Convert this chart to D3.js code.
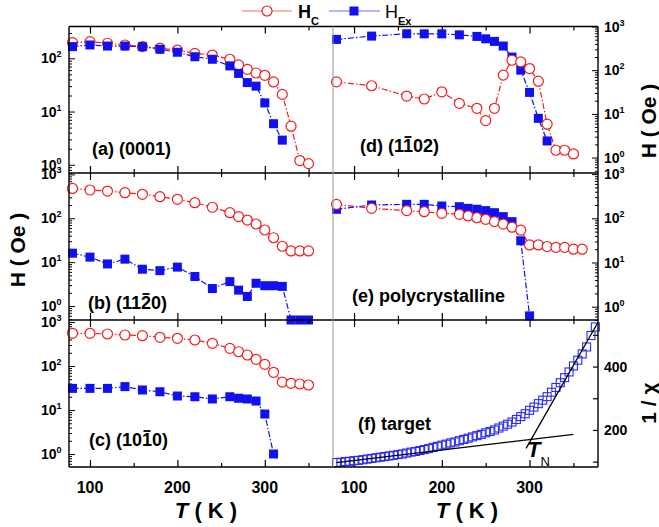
<!DOCTYPE html>
<html><head><meta charset="utf-8">
<script src="https://cdn.jsdelivr.net/npm/d3@7/dist/d3.min.js"></script>
<style>
html,body{margin:0;padding:0;background:#fff;}
svg text{font-family:"Liberation Sans",Arial,Helvetica,sans-serif;font-weight:bold;fill:#000;}
</style></head><body>
<svg id="chart" width="659" height="527"></svg>
<script>
// ---------------- data ----------------
// (a) (0001)
const tempsA_Hc  = [80,100,120,140,160,180,200,220,240,260,270,280,290,300,310,320,330,340,350];
const hcA        = [197,205,192,178,166,155,143,124,115,96,75,62,53,48,36,21,5.3,1.2,1.05];
const tempsA_Hex = [80,100,120,140,160,180,200,220,240,260,270,280,290,300,310,320];
const hexA       = [166,178,170,170,166,148,130,107,96,72,52,35,30,14.5,5.9,2.9];
// (b) (11-20)
const tempsB_Hc  = [80,100,120,140,160,180,200,220,240,260,270,280,290,300,310,320,330,340,350];
const hcB        = [478,440,417,382,351,310,270,226,178,134,109,91,74,54,36,23,18,18,18];
const tempsB_Hex = [80,100,120,140,160,180,200,220,240,260,270,280,290,300,310,320,330,340,350];
const hexB       = [16,13,9.1,11.7,6.9,6.4,7.7,4.7,2.5,3.6,2.3,1.65,3.3,2.9,2.9,2.8,0.48,0.48,0.48];
// (c) (10-10)
const tempsC_Hc  = [80,100,120,140,160,180,200,220,240,260,270,280,290,300,310,320,330,340,350];
const hcC        = [553,553,534,507,489,449,426,390,328,252,211,178,142,109,72,43,40.5,39,37];
const tempsC_Hex = [80,100,120,140,160,180,200,220,240,260,270,280,290,300,310];
const hexC       = [31,31,31,34,28.5,26,20.8,20,17.8,20,18.5,17.8,16,8.1,1.0];
// (d) (1-102)
const tempsD_Hc  = [80,120,160,180,200,220,240,250,260,270,280,290,300,310,320,330,340,350];
const hcD        = [54,44,25.6,21.9,32,17.4,13.4,7,13.4,77,169,155,109,56,5.8,1.47,1.47,1.21];
const tempsD_Hex = [80,120,160,180,200,220,240,250,260,270,280,290,300,310,320];
const hexD       = [507,603,682,679,679,644,593,522,456,357,200,100,31,7.9,2.4];
// (e) polycrystalline
const tempsE_Hc  = [80,120,160,180,200,220,230,240,250,260,270,280,290,300,310,320,330,340,350,360];
const hcE        = [207,168,149,141,130,123,113,103,95,84,74,63,54,25,25,23,22,22,20,20];
const tempsE_Hex = [80,120,160,180,200,220,230,240,250,260,270,280,290,300];
const hexE       = [160,200,207,207,190,183,168,160,149,134,109,84,31,0.62];
// (f) target : 1/chi
const tempsF = [80,85,90,95,100,105,110,115,120,125,130,135,140,145,150,155,160,165,170,175,180,185,190,195,200,205,210,215,220,225,230,235,240,245,250,255,260,265,270,275,280,285,290,295,300,305,310,315,320,325,330,335,340,345,350,355,360,365,370,375];
const invChiF = [97,98,100,101,103,104,106,108,110,112,114,116,118,120,122,124,127,130,132,135,138,141,145,148,152,155,159,162,166,170,174,178,182,186,191,195,200,206,212,218,225,233,242,251,262,272,283,294,305,319,334,349,365,383,402,420,440,462,498,525];
const fitLowT  = [80,350],  fitLowV  = [97,186];
const fitHighT = [296,378], fitHighV = [142,540];

const xTickValues = [100,200,300];
const xTickLabels = ["100","200","300"];
const xMinorTicks = [150,250,350];
const fTickValues = [100,200,300,400,500];
const fTickLabels = {200:"200",400:"400"};

// ---------------- drawing ----------------
const svg = d3.select("#chart");
const RED = "#f01e1e", BLUE = "#1010f0";
const colX = [d3.scaleLinear().domain([76,378]).range([69,333]),
              d3.scaleLinear().domain([76,378]).range([333,598])];
const rowY = [[26.5,173],[173,320],[320,467]];

function xTicks(g, x, top, bot){
  const mk = (vals, len) => {
    const b = g.append("g").attr("transform",`translate(0,${bot})`)
      .call(d3.axisBottom(x).tickValues(vals).tickSize(-len).tickFormat(""));
    b.select(".domain").remove();
    const t = g.append("g").attr("transform",`translate(0,${top})`)
      .call(d3.axisTop(x).tickValues(vals).tickSize(-len).tickFormat(""));
    t.select(".domain").remove();
  };
  mk(xTickValues, 7); mk(xMinorTicks, 4);
  g.selectAll(".tick line").attr("stroke","#000").attr("stroke-width",1.2);
}

function panelLabel(text, bar, lx, ly){
  const t = svg.append("text").attr("x",lx).attr("y",ly).attr("font-size",18).text(text);
  if (bar >= 0){
    const e = t.node().getExtentOfChar(bar);
    svg.append("line").attr("x1",e.x+1.5).attr("x2",e.x+e.width-1.5)
      .attr("y1",ly-15).attr("y2",ly-15).attr("stroke","#000").attr("stroke-width",1.8);
  }
}

const dashed = "6,2,1.5,2";
const lineGen = d3.line();

const logPanels = [
  {c:0,r:0,dom:[0.7,396],  hcT:tempsA_Hc,hc:hcA,exT:tempsA_Hex,ex:hexA,redTop:false,label:"(a) (0001)",bar:-1,lx:92,ly:155},
  {c:0,r:1,dom:[0.48,1075],hcT:tempsB_Hc,hc:hcB,exT:tempsB_Hex,ex:hexB,redTop:false,label:"(b) (1120)",bar:7,lx:88,ly:309},
  {c:0,r:2,dom:[0.507,1110],hcT:tempsC_Hc,hc:hcC,exT:tempsC_Hex,ex:hexC,redTop:false,label:"(c) (1010)",bar:7,lx:89,ly:446},
  {c:1,r:0,dom:[0.443,1000],hcT:tempsD_Hc,hc:hcD,exT:tempsD_Hex,ex:hexD,redTop:true,label:"(d) (1102)",bar:6,lx:360,ly:152},
  {c:1,r:1,dom:[0.5,1060], hcT:tempsE_Hc,hc:hcE,exT:tempsE_Hex,ex:hexE,redTop:true,label:"(e) polycrystalline",bar:-1,lx:352,ly:302}
];

const isMajor = v => Math.abs(Math.log10(v) - Math.round(Math.log10(v))) < 1e-6;

logPanels.forEach(p => {
  const x = colX[p.c];
  const [top, bot] = rowY[p.r];
  const y = d3.scaleLog().domain(p.dom).range([bot, top]);
  const g = svg.append("g");
  xTicks(g, x, top, bot);
  const ax = p.c === 0 ? x.range()[0] : x.range()[1];
  const ticks = y.ticks().filter(v => v >= p.dom[0] && v <= p.dom[1]);
  const axis = (p.c === 0 ? d3.axisRight(y) : d3.axisLeft(y)).tickValues(ticks).tickFormat("").tickSizeOuter(0);
  const ga = g.append("g").attr("transform",`translate(${ax},0)`).call(axis);
  ga.select(".domain").remove();
  ga.selectAll(".tick line").attr("x2", d => (p.c === 0 ? 1 : -1) * (isMajor(d) ? 6 : 3))
    .attr("stroke","#000").attr("stroke-width",1);
  ticks.filter(isMajor).forEach(v => {
    const t = g.append("text").attr("x", p.c === 0 ? 61.5 : 604).attr("y", y(v) + 5)
      .attr("text-anchor", p.c === 0 ? "end" : "start").attr("font-size",14);
    t.append("tspan").text("10");
    t.append("tspan").attr("dy",-6).attr("font-size",9).text(Math.round(Math.log10(v)));
  });
  const hcPts = p.hcT.map((t,i) => [x(t), y(p.hc[i])]);
  const exPts = p.exT.map((t,i) => [x(t), y(p.ex[i])]);
  g.append("path").attr("d", lineGen(hcPts)).attr("fill","none").attr("stroke",RED).attr("stroke-width",1.2).attr("stroke-dasharray",dashed);
  g.append("path").attr("d", lineGen(exPts)).attr("fill","none").attr("stroke",BLUE).attr("stroke-width",1.2).attr("stroke-dasharray",dashed);
  const drawC = () => g.append("g").selectAll("circle").data(hcPts).join("circle")
      .attr("cx",d=>d[0]).attr("cy",d=>d[1]).attr("r",5).attr("fill","#fff").attr("stroke",RED).attr("stroke-width",1.2);
  const drawS = () => g.append("g").selectAll("rect").data(exPts).join("rect")
      .attr("x",d=>d[0]-4.5).attr("y",d=>d[1]-4.5).attr("width",9).attr("height",9).attr("fill",BLUE);
  if (p.redTop){ drawS(); drawC(); } else { drawC(); drawS(); }
  panelLabel(p.label, p.bar, p.lx, p.ly);
});

// panel (f)
(function(){
  const x = colX[1];
  const [top, bot] = rowY[2];
  const y = d3.scaleLinear().domain([83,547]).range([bot, top]);
  const g = svg.append("g");
  xTicks(g, x, top, bot);
  const ga = g.append("g").attr("transform",`translate(598,0)`)
    .call(d3.axisLeft(y).tickValues(fTickValues).tickSize(5).tickFormat(""));
  ga.select(".domain").remove();
  ga.selectAll(".tick line").attr("x2",-5).attr("stroke","#000").attr("stroke-width",1.2);
  fTickValues.filter(v => fTickLabels[v]).forEach(v => {
    g.append("text").attr("x",604).attr("y",y(v)+5).attr("font-size",14).text(fTickLabels[v]);
  });
  g.append("g").selectAll("rect").data(tempsF.map((t,i)=>[x(t),y(invChiF[i])])).join("rect")
    .attr("x",d=>d[0]-4).attr("y",d=>d[1]-4).attr("width",8).attr("height",8)
    .attr("fill","none").attr("stroke","#2a2af0").attr("stroke-width",1.1);
  g.append("path").attr("d", lineGen(fitLowT.map((t,i)=>[x(t),y(fitLowV[i])])))
    .attr("fill","none").attr("stroke","#000").attr("stroke-width",1.3);
  g.append("path").attr("d", lineGen(fitHighT.map((t,i)=>[x(t),y(fitHighV[i])])))
    .attr("fill","none").attr("stroke","#000").attr("stroke-width",1.3);
  panelLabel("(f) target", -1, 358, 430);
  const tn = g.append("text").attr("x",527).attr("y",457).attr("font-size",22);
  tn.append("tspan").attr("font-style","italic").text("T");
  tn.append("tspan").attr("dy",9).attr("font-size",13).attr("font-weight","normal").text("N");
})();

// x tick labels (bottom row)
[0,1].forEach(c => {
  xTickValues.forEach((v,i) => {
    svg.append("text").attr("x",colX[c](v)).attr("y",493).attr("text-anchor","middle")
      .attr("font-size",16).text(xTickLabels[i]);
  });
  const tt = svg.append("text").attr("x", c === 0 ? 206 : 467).attr("y",518)
    .attr("text-anchor","middle").attr("font-size",22);
  tt.append("tspan").attr("font-style","italic").text("T");
  tt.append("tspan").text(" ( K )");
});

// frames
const fr = svg.append("g").attr("stroke-width",1.4);
[26.5,173,320,467].forEach(yv => fr.append("line").attr("x1",69).attr("x2",598).attr("y1",yv).attr("y2",yv).attr("stroke","#000"));
fr.append("line").attr("x1",69).attr("x2",69).attr("y1",26.5).attr("y2",467).attr("stroke","#000");
fr.append("line").attr("x1",598).attr("x2",598).attr("y1",26.5).attr("y2",467).attr("stroke","#000");
fr.append("line").attr("x1",333).attr("x2",333).attr("y1",26.5).attr("y2",467).attr("stroke","#999").attr("stroke-width",1);

// axis titles
svg.append("text").attr("transform","translate(25,250) rotate(-90)").attr("text-anchor","middle")
  .attr("font-size",21).text("H ( Oe )");
svg.append("text").attr("transform","translate(656,121) rotate(-90)").attr("text-anchor","middle")
  .attr("font-size",21).text("H ( Oe )");
svg.append("text").attr("transform","translate(656,403) rotate(-90)").attr("text-anchor","middle")
  .attr("font-size",21).text("1 / χ");

// legend
const lg = svg.append("g");
lg.append("line").attr("x1",242).attr("x2",292).attr("y1",11).attr("y2",11).attr("stroke","#f07070").attr("stroke-width",1.2);
lg.append("circle").attr("cx",267).attr("cy",11).attr("r",5).attr("fill","#fff").attr("stroke",RED).attr("stroke-width",1.2);
const l1 = lg.append("text").attr("x",298).attr("y",17.5).attr("font-size",18);
l1.append("tspan").text("H");
l1.append("tspan").attr("dy",7.5).attr("font-size",11).text("C");
lg.append("line").attr("x1",329).attr("x2",380).attr("y1",11).attr("y2",11).attr("stroke","#7070f0").attr("stroke-width",1.2);
lg.append("rect").attr("x",349.5).attr("y",6.5).attr("width",9).attr("height",9).attr("fill",BLUE);
const l2 = lg.append("text").attr("x",385).attr("y",17.5).attr("font-size",18);
l2.append("tspan").attr("font-weight","normal").text("H");
l2.append("tspan").attr("dy",7.5).attr("font-size",11).text("Ex");
</script>
</body></html>
